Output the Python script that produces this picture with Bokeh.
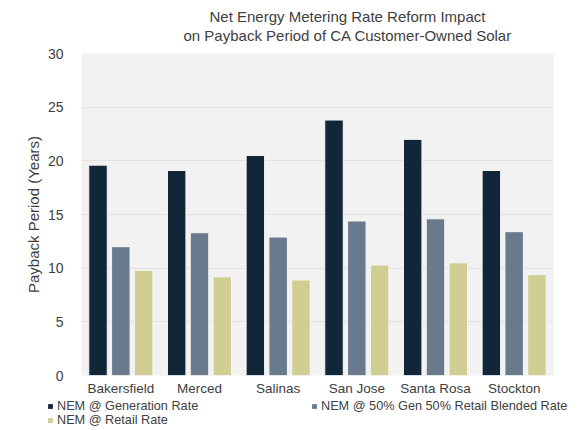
from bokeh.plotting import figure
from bokeh.layouts import column
from bokeh.models import ColumnDataSource, FactorRange, Range1d, Legend, LegendItem, Title, SingleIntervalTicker
from bokeh.transform import dodge
from bokeh.embed import file_html
from bokeh.resources import INLINE

cities = ["Bakersfield", "Merced", "Salinas", "San Jose", "Santa Rosa", "Stockton"]
gen_rate = [19.6, 19.1, 20.5, 23.8, 22.0, 19.1]
blended_rate = [12.0, 13.3, 12.9, 14.4, 14.6, 13.4]
retail_rate = [9.8, 9.2, 8.9, 10.3, 10.5, 9.4]
series_names = ["NEM @ Generation Rate",
                "NEM @ 50% Gen 50% Retail Blended Rate",
                "NEM @ Retail Rate"]
title_lines = ["Net Energy Metering Rate Reform Impact",
               "on Payback Period of CA Customer-Owned Solar"]

FONT = "Liberation Sans"
TEXT = "#404040"
colors = ["#12263a", "#687a8c", "#d0ce93"]
cols = ["gen", "blend", "retail"]
offsets = [-0.29, 0.0, 0.29]

source = ColumnDataSource(dict(city=cities, gen=gen_rate, blend=blended_rate, retail=retail_rate))

p = figure(x_range=FactorRange(*cities), y_range=Range1d(0, 30),
           width=582, height=398, output_backend="svg", toolbar_location=None,
           min_border_left=81, min_border_right=29, min_border_top=53, min_border_bottom=23)

p.background_fill_color = "#f2f2f2"
p.border_fill_color = "white"
p.outline_line_color = None

for col, off, c in zip(cols, offsets, colors):
    p.vbar(x=dodge("city", off, range=p.x_range), top=col, width=0.235,
           source=source, fill_color=c, line_color="#f6f6f6", line_width=1)

p.xgrid.grid_line_color = None
p.ygrid.grid_line_color = "#e2e2e2"
p.yaxis.ticker = SingleIntervalTicker(interval=5)
p.yaxis.axis_label = "Payback Period (Years)"
p.yaxis.axis_label_text_font = FONT
p.yaxis.axis_label_text_font_size = "15px"
p.yaxis.axis_label_text_font_style = "normal"
p.yaxis.axis_label_text_color = TEXT
p.yaxis.axis_label_standoff = 3

for ax in (p.xaxis, p.yaxis):
    ax.axis_line_color = None
    ax.major_tick_line_color = None
    ax.minor_tick_line_color = None
    ax.major_tick_out = 0
    ax.major_label_text_font = FONT
    ax.major_label_text_color = TEXT
p.yaxis.major_label_text_font_size = "14px"
p.yaxis.major_label_standoff = 14
p.xaxis.major_label_text_font_size = "13.5px"
p.xaxis.major_label_standoff = 5

# titles stack outward from the frame; a tiny blank one keeps a gap above the frame
p.add_layout(Title(text=" ", text_font_size="1px", standoff=7), "above")
for line, off in [(title_lines[1], 102), (title_lines[0], 128)]:
    p.add_layout(Title(text=line, align="left", offset=off, text_font=FONT, text_font_size="15px",
                       text_font_style="normal", text_color=TEXT, standoff=0), "above")

# legend strip under the chart; its key glyphs come from the same data, drawn out of view
leg = figure(width=582, height=32, x_range=FactorRange(*cities), y_range=Range1d(40, 41),
             output_backend="svg", toolbar_location=None,
             x_axis_location=None, y_axis_location=None, min_border=0)
leg.frame_align = False
leg.outline_line_color = None
leg.xgrid.visible = False
leg.ygrid.visible = False
keys = [leg.vbar(x=dodge("city", off, range=leg.x_range), top=col, width=0.235, source=source,
                 fill_color=c, line_color=None)
        for col, off, c in zip(cols, offsets, colors)]

legend_style = dict(label_text_font=FONT, label_text_font_size="12.7px", label_text_color=TEXT,
                    glyph_width=6, glyph_height=6, label_standoff=4, label_height=13,
                    spacing=0, padding=0, margin=0, border_line_color=None, background_fill_alpha=0)
leg_a = Legend(items=[LegendItem(label=series_names[0], renderers=[keys[0]]),
                      LegendItem(label=series_names[2], renderers=[keys[2]])],
               location=(47, 3), **legend_style)
leg_b = Legend(items=[LegendItem(label=series_names[1], renderers=[keys[1]])],
               location=(311, 17), **legend_style)
leg.add_layout(leg_a, "center")
leg.add_layout(leg_b, "center")

page = column(p, leg, spacing=0)
open("out.html", "w").write(file_html(page, INLINE))
